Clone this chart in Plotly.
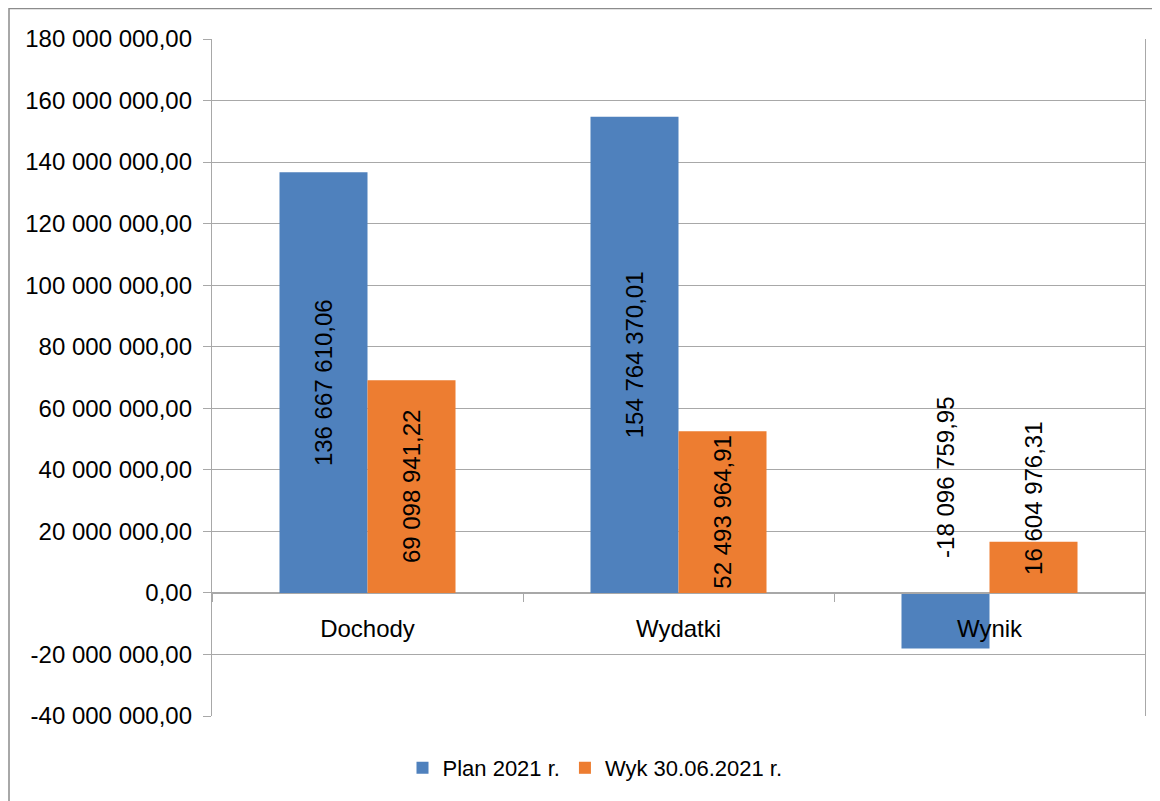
import plotly.graph_objects as go

categories = ["Dochody", "Wydatki", "Wynik"]
plan_2021 = [136667610.06, 154764370.01, -18096759.95]
wyk_2021 = [69098941.22, 52493964.91, 16604976.31]
series_names = ["Plan 2021 r.", "Wyk 30.06.2021 r."]
tick_values = [-40e6, -20e6, 0, 20e6, 40e6, 60e6, 80e6, 100e6, 120e6, 140e6, 160e6, 180e6]

BLUE = "#4F81BD"
ORANGE = "#ED7D31"
FONT = "Liberation Sans"
GRID = "#a8a8a8"


def pl_fmt(v):
    s = f"{abs(v):,.2f}".replace(",", " ").replace(".", ",")
    return ("-" if v < 0 else "") + s


# page body has an 8px margin; figure coordinates are offset by it
OFF = 8
W, H = 1160, 801
L, R, T, B = 204, 23, 31, 93
pw, ph = W - L - R, H - T - B
ymin, ymax = -40e6, 180e6

fig = go.Figure()
fig.add_trace(go.Bar(x=categories, y=plan_2021, name=series_names[0],
                     marker=dict(color=BLUE, line=dict(width=0))))
fig.add_trace(go.Bar(x=categories, y=wyk_2021, name=series_names[1],
                     marker=dict(color=ORANGE, line=dict(width=0))))

annotations = []
bar_px = pw / 3 * (1 - 0.434) / 2
for vals, sign in ((plan_2021, -1), (wyk_2021, 1)):
    for c, v in zip(categories, vals):
        if abs(v) > 30e6:
            a = dict(y=v / 2, yanchor="middle", yshift=0)
        else:
            a = dict(y=0, yanchor="bottom", yshift=33 if v < 0 else 16)
        annotations.append(dict(x=c, xref="x", yref="y", text=pl_fmt(v), textangle=-90,
                                showarrow=False, xshift=sign * bar_px / 2,
                                font=dict(family=FONT, size=24, color="#000000"), **a))

# legend centre in page pixels (595, 768)
leg_x = (595 - OFF - L) / pw
leg_y = -((768 - OFF) - (T + ph)) / ph

fig.update_layout(
    width=W, height=H,
    margin=dict(l=L, r=R, t=T, b=B),
    paper_bgcolor="white", plot_bgcolor="white",
    barmode="group", bargap=0.434, bargroupgap=0,
    font=dict(family=FONT, size=24, color="#000000"),
    annotations=annotations,
    legend=dict(orientation="h", x=leg_x, y=leg_y,
                xanchor="center", yanchor="middle",
                font=dict(family=FONT, size=22, color="#000000"),
                itemwidth=30, tracegroupgap=0),
    shapes=[dict(type="rect", xref="paper", yref="paper",
                 x0=(1 - L) / pw, x1=(W + 40 - L) / pw,
                 y0=-(H + 40 - T - ph) / ph, y1=(T + ph - 0.5) / ph,
                 line=dict(color="#8c8c8c", width=1.5), fillcolor="rgba(0,0,0,0)", layer="below")],
)

fig.update_yaxes(range=[ymin, ymax], tickvals=tick_values,
                 ticktext=[pl_fmt(v) for v in tick_values],
                 showgrid=True, gridcolor=GRID, gridwidth=1.3,
                 showline=True, linecolor=GRID, linewidth=1.3, mirror=True,
                 ticks="outside", ticklen=8, tickcolor=GRID,
                 zeroline=False, tickfont=dict(family=FONT, size=24, color="#000000"),
                 ticklabelstandoff=6)
fig.update_xaxes(type="category", range=[-0.5, 2.5], anchor="free",
                 position=(0 - ymin) / (ymax - ymin),
                 showline=True, linecolor=GRID, linewidth=1.3,
                 ticks="outside", ticklen=8, tickcolor=GRID, tickson="boundaries",
                 showgrid=False, ticklabelstandoff=14,
                 tickfont=dict(family=FONT, size=24, color="#000000"))

fig.write_html("out.html")
